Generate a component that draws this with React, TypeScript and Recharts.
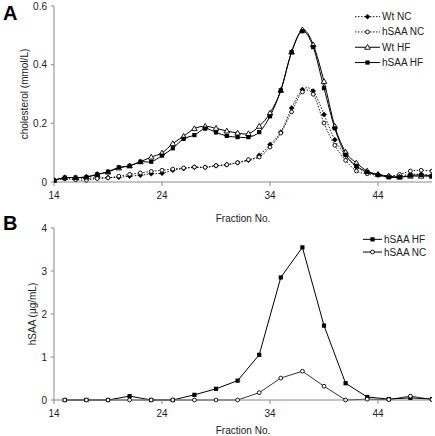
import React from 'react';
import { LineChart, Line, XAxis, YAxis } from 'recharts';

// ---------- Panel A data (fractions 14..49) ----------
const fractionsA = [14, 15, 16, 17, 18, 19, 20, 21, 22, 23, 24, 25, 26, 27, 28, 29, 30, 31, 32, 33, 34, 35, 36, 37, 38, 39, 40, 41, 42, 43, 44, 45, 46, 47, 48, 49];
const wtNC = [0.006, 0.013, 0.013, 0.013, 0.014, 0.015, 0.016, 0.02, 0.023, 0.028, 0.03, 0.04, 0.046, 0.05, 0.05, 0.055, 0.059, 0.066, 0.074, 0.091, 0.128, 0.17, 0.252, 0.315, 0.31, 0.23, 0.144, 0.091, 0.051, 0.034, 0.026, 0.02, 0.02, 0.026, 0.026, 0.023];
const hsaaNC = [0.006, 0.011, 0.008, 0.006, 0.012, 0.014, 0.02, 0.026, 0.031, 0.036, 0.04, 0.044, 0.048, 0.051, 0.05, 0.056, 0.059, 0.066, 0.076, 0.085, 0.119, 0.167, 0.239, 0.307, 0.299, 0.201, 0.125, 0.074, 0.0375, 0.028, 0.023, 0.02, 0.026, 0.0375, 0.04, 0.0375];
const wtHF = [0.006, 0.015, 0.015, 0.017, 0.026, 0.034, 0.048, 0.055, 0.069, 0.085, 0.099, 0.131, 0.156, 0.182, 0.19, 0.183, 0.174, 0.167, 0.165, 0.19, 0.235, 0.3125, 0.443, 0.519, 0.468, 0.343, 0.19, 0.102, 0.065, 0.0375, 0.026, 0.02, 0.017, 0.02, 0.02, 0.02];
const hsaaHF = [0.006, 0.015, 0.015, 0.017, 0.026, 0.035, 0.05, 0.055, 0.069, 0.069, 0.09, 0.115, 0.147, 0.16, 0.182, 0.169, 0.157, 0.153, 0.153, 0.17, 0.224, 0.3125, 0.443, 0.514, 0.46, 0.32, 0.183, 0.093, 0.055, 0.034, 0.024, 0.016, 0.016, 0.022, 0.024, 0.02];

// ---------- Panel B data (odd fractions 15..49) ----------
const fractionsB = [15, 17, 19, 21, 23, 25, 27, 29, 31, 33, 35, 37, 39, 41, 43, 45, 47, 49];
const bHsaaHF = [0, 0, 0, 0.09, 0, 0, 0.12, 0.26, 0.45, 1.05, 2.85, 3.55, 1.73, 0.39, 0.07, 0.02, 0.05, 0.02];
const bHsaaNC = [0, 0, 0, 0, 0, 0, 0, 0, 0, 0.17, 0.51, 0.67, 0.32, 0, 0.02, 0.01, 0.09, 0.01];

// ---------- Axis ticks / labels ----------
const xTicks = [14, 24, 34, 44];
const yTicksA = [0, 0.2, 0.4, 0.6];
const yTicksB = [0, 1, 2, 3, 4];
const xLabel = 'Fraction No.';
const yLabelA = 'cholesterol (mmol/L)';
const yLabelB = 'hSAA (µg/mL)';

const dataA = fractionsA.map((f, i) => ({ f, wtNC: wtNC[i], hsaaNC: hsaaNC[i], wtHF: wtHF[i], hsaaHF: hsaaHF[i] }));
const dataB = fractionsB.map((f, i) => ({ f, hsaaHF: bHsaaHF[i], hsaaNC: bHsaaNC[i] }));

const FONT = '"Liberation Sans", Arial, sans-serif';
const AXIS = '#8a8a8a';
const TXT = '#222';

// Excel-like smoothing (Catmull-Rom)
const smooth: any = (context: any) => {
  let pts: number[][] = [];
  return {
    areaStart() {},
    areaEnd() {},
    lineStart() { pts = []; },
    point(x: number, y: number) { pts.push([+x, +y]); },
    lineEnd() {
      if (!pts.length) return;
      context.moveTo(pts[0][0], pts[0][1]);
      for (let i = 0; i < pts.length - 1; i++) {
        const p0 = pts[i - 1] || pts[i];
        const p1 = pts[i];
        const p2 = pts[i + 1];
        const p3 = pts[i + 2] || p2;
        context.bezierCurveTo(
          p1[0] + (p2[0] - p0[0]) / 6, p1[1] + (p2[1] - p0[1]) / 6,
          p2[0] - (p3[0] - p1[0]) / 6, p2[1] - (p3[1] - p1[1]) / 6,
          p2[0], p2[1]
        );
      }
    },
  };
};

type MarkerKind = 'diamond' | 'circle' | 'triangle' | 'square';

const Marker = ({ kind, cx, cy }: { kind: MarkerKind; cx: number; cy: number }) => {
  if (cx == null || cy == null || isNaN(cx) || isNaN(cy)) return null;
  switch (kind) {
    case 'diamond':
      return <path d={`M${cx},${cy - 2.5}L${cx + 2.5},${cy}L${cx},${cy + 2.5}L${cx - 2.5},${cy}Z`} fill="#000" stroke="#000" strokeWidth={0.5} />;
    case 'circle':
      return <circle cx={cx} cy={cy} r={1.9} fill="#fff" stroke="#000" strokeWidth={0.9} />;
    case 'triangle':
      return <path d={`M${cx},${cy - 2.8}L${cx + 2.8},${cy + 2}L${cx - 2.8},${cy + 2}Z`} fill="#fff" stroke="#000" strokeWidth={0.9} />;
    case 'square':
    default:
      return <rect x={cx - 2.1} y={cy - 2.1} width={4.2} height={4.2} fill="#000" />;
  }
};

const dotFn = (kind: MarkerKind) => (p: any) => <Marker key={`${kind}-${p.index}`} kind={kind} cx={p.cx} cy={p.cy} />;

interface LegendItem { name: string; kind: MarkerKind; dashed: boolean }
const legendA: LegendItem[] = [
  { name: 'Wt NC', kind: 'diamond', dashed: true },
  { name: 'hSAA NC', kind: 'circle', dashed: true },
  { name: 'Wt HF', kind: 'triangle', dashed: false },
  { name: 'hSAA HF', kind: 'square', dashed: false },
];
const legendB: LegendItem[] = [
  { name: 'hSAA HF', kind: 'square', dashed: false },
  { name: 'hSAA NC', kind: 'circle', dashed: false },
];

const LegendBox = ({ items, lineLen, rowH }: { items: LegendItem[]; lineLen: number; rowH: number }) => {
  const w = 85;
  const h = items.length * rowH + 4;
  return (
    <svg width={w} height={h} style={{ display: 'block', overflow: 'visible' }}>
      {items.map((it, i) => {
        const y = rowH / 2 + i * rowH;
        const x0 = 2;
        const x1 = x0 + lineLen;
        return (
          <g key={it.name}>
            <line x1={x0} y1={y} x2={x1} y2={y} stroke="#000" strokeWidth={it.dashed ? 0.9 : 1} strokeDasharray={it.dashed ? '1.5 1.5' : undefined} />
            <Marker kind={it.kind} cx={(x0 + x1) / 2} cy={y} />
            <text x={x1 + 2} y={y} dy="0.35em" fontSize={10} fontFamily={FONT} fill={TXT}>{it.name}</text>
          </g>
        );
      })}
    </svg>
  );
};

const tickStyle = { fontSize: 10, fontFamily: FONT, fill: TXT };

export default function App() {
  return (
    <div style={{ position: 'absolute', left: 0, top: 0, width: 435, height: 436, background: '#fff', fontFamily: FONT }}>
      <div style={{ position: 'absolute', left: 3, top: 1, fontSize: 20, fontWeight: 'bold', fontFamily: FONT, lineHeight: '24px' }}>A</div>
      <div style={{ position: 'absolute', left: 3, top: 211, fontSize: 20, fontWeight: 'bold', fontFamily: FONT, lineHeight: '24px' }}>B</div>

      <div style={{ position: 'absolute', left: 0, top: 220 }}>
        <LineChart width={435} height={216} data={dataB} margin={{ top: 8, right: 3, left: 0, bottom: 0 }}>
          <XAxis
            dataKey="f"
            type="number"
            domain={[14, 49]}
            ticks={xTicks}
            allowDataOverflow
            height={36}
            stroke={AXIS}
            tickSize={4}
            tickMargin={6}
            tick={tickStyle}
            label={{ value: xLabel, position: 'insideBottom', offset: 2, style: { fontSize: 10, fontFamily: FONT, fill: TXT } }}
          />
          <YAxis
            type="number"
            domain={[0, 4]}
            ticks={yTicksB}
            width={54}
            stroke={AXIS}
            tickSize={3}
            tickMargin={4}
            tick={tickStyle}
            label={{ value: yLabelB, angle: -90, position: 'center', dx: 5, style: { fontSize: 10, fontFamily: FONT, fill: TXT, textAnchor: 'middle' } }}
          />
          <Line dataKey="hsaaHF" name="hSAA HF" type="linear" stroke="#000" strokeWidth={1} dot={dotFn('square')} activeDot={false} isAnimationActive={false} />
          <Line dataKey="hsaaNC" name="hSAA NC" type="linear" stroke="#000" strokeWidth={0.8} dot={dotFn('circle')} activeDot={false} isAnimationActive={false} />
        </LineChart>
      </div>
      <div style={{ position: 'absolute', left: 361, top: 233 }}>
        <LegendBox items={legendB} lineLen={19} rowH={12.7} />
      </div>

      <div style={{ position: 'absolute', left: 0, top: 0 }}>
        <LineChart width={435} height={226} data={dataA} margin={{ top: 6, right: 3, left: 0, bottom: 6 }}>
          <XAxis
            dataKey="f"
            type="number"
            domain={[14, 49]}
            ticks={xTicks}
            allowDataOverflow
            height={38}
            stroke={AXIS}
            tickSize={4}
            tickMargin={6}
            tick={tickStyle}
            label={{ value: xLabel, position: 'insideBottom', offset: -2, style: { fontSize: 10, fontFamily: FONT, fill: TXT } }}
          />
          <YAxis
            type="number"
            domain={[0, 0.6]}
            ticks={yTicksA}
            width={54}
            stroke={AXIS}
            tickSize={3}
            tickMargin={4}
            tick={tickStyle}
            label={{ value: yLabelA, angle: -90, position: 'center', dx: -3, style: { fontSize: 10, fontFamily: FONT, fill: TXT, textAnchor: 'middle' } }}
          />
          <Line dataKey="wtNC" name="Wt NC" type={smooth} stroke="#000" strokeWidth={0.9} strokeDasharray="1.5 1.5" dot={dotFn('diamond')} activeDot={false} isAnimationActive={false} />
          <Line dataKey="hsaaNC" name="hSAA NC" type={smooth} stroke="#000" strokeWidth={0.9} strokeDasharray="1.5 1.5" dot={dotFn('circle')} activeDot={false} isAnimationActive={false} />
          <Line dataKey="wtHF" name="Wt HF" type={smooth} stroke="#000" strokeWidth={1} dot={dotFn('triangle')} activeDot={false} isAnimationActive={false} />
          <Line dataKey="hsaaHF" name="hSAA HF" type={smooth} stroke="#000" strokeWidth={1} dot={dotFn('square')} activeDot={false} isAnimationActive={false} />
        </LineChart>
      </div>
      <div style={{ position: 'absolute', left: 353, top: 9 }}>
        <LegendBox items={legendA} lineLen={25} rowH={15.3} />
      </div>
    </div>
  );
}
